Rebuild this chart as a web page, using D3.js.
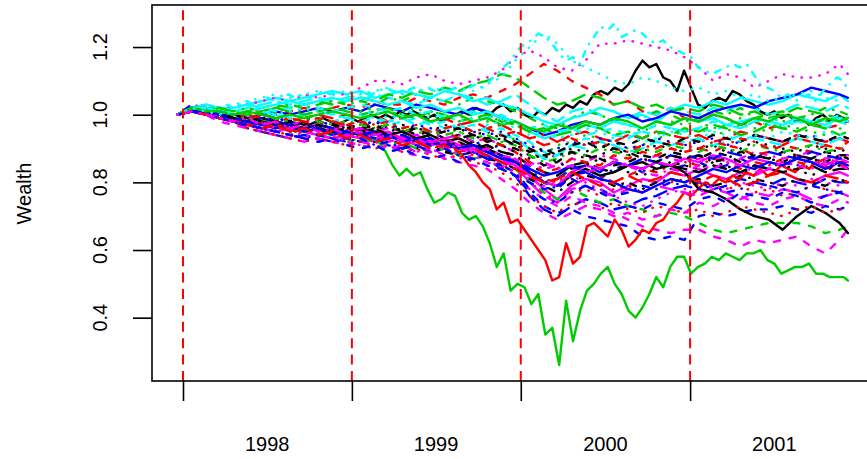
<!DOCTYPE html>
<html>
<head>
<meta charset="utf-8">
<script src="https://cdn.jsdelivr.net/npm/d3@7"></script>
<style>
body { margin: 0; background: #fff; }
text { font-family: "Liberation Sans", Arial, Helvetica, sans-serif; }
</style>
</head>
<body>
<script>
// axis breaks and labels
var yearLabels = [1998, 1999, 2000, 2001];
var yearBreaks = ["1998-01-01", "1999-01-01", "2000-01-01", "2001-01-01"];
var yTicks = [0.4, 0.6, 0.8, 1.0, 1.2];

// observation dates: monthly from Dec 1997 (last one early Dec 2001)
var dates = d3.range(48).map(function(i) { return d3.timeMonth.offset(new Date(1997, 11, 20), i); });
dates.push(new Date(2001, 11, 8));
// finer grid (every 15 days) for the few paths that stand out
var halfDates = d3.range(97).map(function(i) { return d3.timeDay.offset(new Date(1997, 11, 20), 15 * i); });
halfDates.push(new Date(2001, 11, 8));

// wealth paths, percent of starting value
var w00 = [100,101,102,101,100,100,99,99,98,99, 98,99,98,97,98,97,98,97,98,97, 98,99,98,97,98,99,98,99,100,99, 100,99,101,100,101,100,99,100,98,99, 100,101,100,102,101,100,102,103,101,102, 100,99,101,100,102,101,103,102,104,103, 106,107,106,108,107,109,113,116,114,115, 111,110,107,113,108,103,102,104,105,104, 107,106,104,103,101,100,101,99,100,98, 99,97,99,100,98,100,99,98];
var w01 = [100,102,102,101,100,100,101,100,101,102,101,102,103, 102,104,103,103,105,104,103,105,106,105,107,109, 112,115,113,110,108,106,103,104,101,100,102,99, 98,100,99,97,98,96,97,99,98,96,97,98];
var w02 = [100,102,101,100,99,98,99,98,97,96,97,96,95, 96,95,97,96,95,94,96,95,93,94,92,93, 90,88,91,92,94,93,92,90,91,93,94,95, 96,94,95,97,96,95,97,96,95,94,96,95];
var w03 = [100,103,102,101,100,99,98,97,98,97,96,95,96, 95,94,93,94,92,93,91,90,92,91,89,88, 84,80,78,82,83,81,84,85,83,86,84,85, 86,84,85,87,85,84,86,85,87,86,85,86];
var w04 = [100,102,103,102,101,102,103,104,103,104,105,104,105, 104,106,105,104,103,105,104,106,105,103,104,106, 103,100,98,101,102,100,98,99,101,100,102,101, 100,102,101,103,102,100,101,103,102,101,103,102];
var w05 = [100,101,100,99,98,97,96,95,96,95,94,93,94, 93,92,94,93,91,92,90,91,89,88,86,87, 82,78,75,79,81,80,77,79,81,80,83,82, 84,82,81,83,82,84,83,81,80,82,83,82];
var w06 = [100,102,101,100,99,98,97,98,97,96,97,96,97, 96,97,95,96,94,95,93,94,92,93,91,90, 88,85,86,89,88,87,85,86,88,87,89,88, 87,89,88,86,88,87,89,88,87,89,88,88];
var w07 = [100,101,100,99,98,97,96,95,94,95,94,93,94, 93,92,93,91,92,90,89,90,88,87,85,84, 80,77,74,77,78,76,78,79,77,79,80,81, 79,80,78,79,77,78,76,77,79,78,77,78];
var w08 = [100,102,102,101,101,102,101,102,103,102,103,104,103, 104,103,105,104,106,105,104,103,105,104,103,101, 99,97,96,99,101,100,98,100,99,101,100,98, 99,101,100,102,99,100,101,99,100,102,101,100];
var w09 = [100,102,100,99,98,96,95,94,93,94,93,92,93, 92,93,91,90,91,89,90,88,89,87,84,82, 76,72,70,73,75,74,72,73,75,76,78,79, 80,78,79,81,80,79,81,80,79,81,80,80];
var w10 = [100,102,103,102,102,103,104,105,104,105,106,107,106, 107,105,106,107,106,105,107,106,104,105,103,102, 100,98,97,99,100,102,101,99,100,98,101,103, 102,104,103,105,104,103,104,106,105,104,106,104];
var w11 = [100,101,100,98,97,96,95,94,93,92,93,92,91, 92,91,90,91,89,90,88,89,87,86,84,82, 78,75,73,76,74,73,71,69,67,66,65,66, 66,64,63,61,63,62,63,64,61,59,63,66];
var w12 = [100,102,101,100,100,99,98,99,98,99,98,97,98, 97,98,96,97,96,95,97,96,94,95,93,92, 89,87,88,90,89,91,90,88,89,91,90,89, 90,91,89,90,92,91,90,89,91,90,89,90];
var w13 = [100,101,101,100,99,98,97,96,97,96,95,96,95, 94,95,93,94,92,93,91,92,90,89,88,86, 83,81,80,83,84,82,80,82,84,83,85,86, 85,87,86,84,86,85,87,86,85,87,86,86];
var w14 = [100,102,102,101,100,101,102,103,102,103,104,103,104, 105,104,106,105,107,106,108,107,109,110,112,111, 108,105,103,104,106,105,103,104,102,103,101,102, 101,103,102,100,101,99,100,102,101,100,99,100];
var w15 = [100,102,101,101,100,99,100,101,100,101,102,101,102, 101,103,102,101,103,102,101,100,102,101,99,98, 96,94,95,97,98,97,99,100,98,99,101,100, 99,101,102,103,102,104,105,106,108,107,106,105];
var w16 = [100,102,101,100,101,100,99,100,99,100,99,98,99, 98,99,97,98,99,97,98,96,97,95,96,94, 92,89,88,91,93,92,94,93,95,94,96,95, 96,95,97,96,98,97,96,98,97,96,98,97];
var w17 = [100,102,103,102,102,103,104,105,104,106,105,106,106, 108,110,110,109,111,112,110,109,110,111,113,117, 119,117,114,113,116,121,121,122,121,120,119,117, 114,110,112,111,108,110,112,111,111,112,115,112];
var w18 = [100,101,100,99,98,97,96,97,96,95,94,95,94, 93,92,93,91,90,91,89,88,89,87,86,84, 81,79,77,80,82,81,79,80,78,80,81,80, 81,79,80,82,81,80,79,81,80,79,81,80];
var w19 = [100,102,101,101,100,99,100,99,100,99,100,99,100, 99,100,98,99,100,98,99,97,98,96,97,95, 93,91,92,94,95,93,92,94,93,95,94,93, 94,92,93,95,94,93,92,94,93,92,93,92];
var w20 = [100,101,102,102,101,102,101,100,99,99, 98,98,97,98,97,96,96,95,96,95, 96,95,94,95,94,95,94,94,93,92, 89,85,82,84,82,83,78,74,75,77, 76,71,69,70,67,62,55,59,48,50, 49,44,47,35,37,26,45,33,42,48, 50,53,55,50,47,42,40,43,47,52, 49,55,58,58,53,55,56,58,57,59, 58,57,59,59,60,57,56,53,54,55, 55,56,53,53,52,52,52,51];
var w21 = [100,101,100,99,98,97,96,97,96,95,96,95,94, 95,93,94,92,93,91,92,90,89,87,85,82, 77,73,71,72,70,69,68,67,64,63,64,63, 70,71,70,71,72,72,73,72,71,73,72,73];
var w22 = [100,102,103,102,103,104,105,106,105,106,107,106,107, 106,107,108,106,107,108,107,108,107,109,111,116, 120,124,121,116,114,112,110,109,111,110,108,107, 108,106,107,105,106,104,105,106,107,105,104,105];
var w23 = [100,102,101,100,99,98,99,98,97,98,97,96,97, 96,95,96,95,94,95,93,94,92,93,91,89, 86,84,85,87,86,88,87,85,86,88,87,86, 87,88,86,87,89,88,87,88,89,87,88,88];
var w24 = [100,101,100,99,98,97,98,97,96,95,96,95,94, 95,94,93,94,92,93,91,92,90,91,89,88, 85,83,82,85,86,84,83,85,84,86,85,84, 83,85,84,83,85,84,83,84,85,83,84,84];
var w25 = [100,101,102,102,101,101,100,100,99,98, 98,97,98,97,96,97,96,95,96,95, 96,95,95,96,95,96,95,94,95,94, 93,94,93,92,93,92,91,92,91,92, 90,88,85,83,80,78,72,74,68,69, 66,63,60,57,51,52,62,56,58,67, 68,66,64,69,66,61,63,66,65,68, 69,72,74,77,76,78,80,79,81,80, 82,81,83,82,84,82,83,85,84,83, 85,84,86,85,84,86,85,84];
var w26 = [100,101,100,99,98,97,96,95,94,95,94,93,92, 93,92,91,92,90,89,90,88,87,88,86,84, 80,77,75,78,76,74,75,73,72,70,71,70, 68,66,65,66,67,68,68,68,67,65,66,67];
var w27 = [100,102,101,100,100,99,100,99,98,99,98,97,98, 97,98,97,96,97,96,95,96,95,94,95,93, 91,89,90,92,91,93,92,90,91,93,92,91, 92,93,91,92,94,93,92,93,94,92,93,93];
var w28 = [100,101,102,102,101,102,102,103,102,103, 104,103,104,105,104,105,106,105,106,105, 106,107,106,107,106,105,106,107,106,107, 108,107,106,107,108,107,108,107,108,107, 108,107,108,109,108,110,112,114,116,119, 121,122,124,123,121,118,116,117,115,120, 123,126,125,127,123,124,125,124,122,121, 122,120,119,118,117,114,113,112,113,114, 115,114,115,112,109,108,107,105,106,104, 105,106,104,107,109,111,110,107];
var w29 = [100,101,100,99,98,97,96,95,96,95,94,93,94, 93,94,92,93,91,92,90,91,89,88,86,85, 80,76,74,78,79,77,76,78,77,79,78,77, 76,78,77,75,77,76,78,77,75,76,77,76];
var w30 = [100,101,101,100,99,98,99,98,97,96,97,96,95, 96,95,94,95,93,94,92,93,91,90,88,86, 83,80,79,82,84,82,83,85,86,84,85,83, 78,77,75,72,70,69,66,70,73,71,68,65];
var w31 = [100,102,101,100,99,100,99,98,99,98,97,98,97, 98,96,97,95,96,94,95,93,94,92,91,89, 86,83,84,87,86,85,88,87,89,88,90,89, 90,89,91,90,88,89,91,90,89,91,90,90];
var w32 = [100,102,102,101,100,101,100,101,102,101,102,101,102, 101,102,100,101,102,100,101,99,100,98,99,97, 95,93,94,96,97,96,98,97,95,97,98,97, 98,96,97,99,98,97,98,99,97,98,99,98];
var w33 = [100,101,100,99,98,97,96,95,94,93,94,93,92, 93,91,92,90,91,89,90,88,87,88,85,83, 78,75,74,77,79,78,76,77,79,78,80,79, 78,79,77,78,80,79,78,77,79,78,77,78];
var w34 = [100,102,101,100,101,100,101,100,99,100,101,100,99, 100,99,98,99,97,98,96,97,95,96,94,93, 90,87,88,91,90,92,91,89,90,92,91,92, 93,91,92,94,93,92,91,93,92,91,93,92];
var w35 = [100,101,100,100,99,98,97,98,97,96,97,96,95, 96,94,95,93,94,92,93,91,90,89,87,85, 82,80,79,83,85,84,86,85,84,86,85,87, 86,88,87,85,87,86,85,87,86,85,87,86];
var w36 = [100,102,101,100,100,99,98,99,98,97,98,97,96, 97,96,97,95,96,94,95,96,94,93,94,92, 90,88,89,91,92,90,92,91,93,92,91,93, 92,94,93,92,94,93,92,94,93,92,94,93];
var w37 = [100,101,100,99,98,96,95,94,93,92,93,92,91, 92,90,91,89,90,88,87,88,86,85,83,80, 76,73,71,74,73,72,74,72,71,73,72,71, 72,70,71,73,72,71,70,72,73,71,72,72];
var w38 = [100,102,101,101,100,99,98,99,98,99,98,97,98, 97,96,97,95,96,95,94,95,93,94,92,91, 88,86,87,89,88,90,89,88,90,89,91,90, 89,91,90,89,91,90,89,90,91,89,90,90];
var w39 = [100,101,101,100,99,98,99,98,97,96,97,96,95, 94,95,93,94,92,93,91,90,91,89,88,86, 83,80,81,84,85,83,86,85,87,86,88,87, 88,87,89,88,87,89,88,87,89,88,87,88];
var w40 = [100,102,102,101,102,103,102,103,104,103,104,105,104, 105,104,103,104,102,103,101,102,100,101,99,98, 95,93,94,96,97,96,98,97,96,98,97,99, 98,99,97,98,99,98,97,99,98,97,99,98];
var w41 = [100,101,100,99,98,97,96,95,94,93,92,93,92, 91,90,91,89,88,89,87,86,85,84,81,78, 74,71,69,71,73,72,70,71,69,70,72,71, 74,73,75,76,74,73,75,76,74,73,75,74];
var w42 = [100,102,101,101,100,99,98,97,98,97,96,97,96, 95,96,94,95,93,94,92,91,92,90,91,89, 87,88,86,84,85,87,86,83,82,84,86,85, 84,86,85,83,84,86,85,84,82,84,85,84];
var w43 = [100,101,102,100,99,100,99,98,99,98,99,98,97, 98,97,98,96,97,95,96,97,95,96,94,95, 93,94,92,93,91,92,90,89,91,90,92,91, 90,92,91,93,92,90,91,93,92,91,90,92];
var w44 = [100,102,101,102,101,100,101,102,101,100,101,102,101, 100,101,102,100,99,101,100,98,99,100,98,97, 95,96,94,95,97,96,94,95,93,95,94,96, 95,97,96,94,95,97,96,95,97,96,94,95];
var w45 = [100,101,101,100,99,98,97,96,97,95,96,94,95, 94,93,94,92,93,91,92,90,91,89,87,86, 84,82,83,85,83,81,80,78,77,79,81,80, 82,84,83,85,84,86,85,87,86,84,86,85];
var w46 = [100,102,102,101,100,101,102,101,102,103,102,101,102, 103,102,101,102,100,101,99,100,101,99,100,98, 96,97,95,96,94,95,96,94,95,97,96,95, 96,98,97,96,98,99,98,97,99,98,100,99];
var w47 = [100,101,100,99,98,97,98,96,95,94,93,94,92, 91,92,90,91,89,90,88,87,88,86,85,83, 81,79,80,82,80,78,76,74,73,75,77,78, 77,79,78,80,79,78,80,79,81,80,79,80];
var w48 = [100,102,101,100,99,98,99,98,97,96,97,95,96, 95,96,94,95,93,94,92,93,94,92,93,91, 89,90,88,89,87,88,90,89,87,86,88,87, 88,86,87,89,88,87,86,88,87,86,88,87];
var w49 = [100,101,100,99,98,97,96,97,95,96,94,95,93, 94,92,93,91,92,90,91,89,90,88,86,84, 82,80,81,83,81,79,80,82,80,81,83,82, 80,82,81,79,80,82,83,81,80,82,81,80];
var w50 = [100,102,101,101,100,101,100,99,100,99,100,101,100, 99,100,101,99,100,98,99,100,98,99,97,98, 96,95,97,96,98,97,99,98,96,98,97,99, 98,100,99,97,99,98,100,99,97,99,98,99];
var w51 = [100,101,100,99,98,97,96,95,94,93,92,93,91, 90,91,89,90,88,87,88,86,87,85,84,82, 80,78,79,81,79,77,75,73,72,74,73,72, 75,76,74,77,76,75,77,76,74,76,77,76];
var w52 = [100,102,101,100,101,102,101,100,101,102,101,100,101, 100,101,99,100,101,99,100,98,99,97,98,96, 94,95,93,94,96,95,93,94,92,93,95,94, 93,95,94,92,94,93,95,94,93,95,94,94];
var w53 = [100,101,100,99,98,99,97,98,96,97,95,96,94, 95,93,94,92,93,91,92,90,89,90,88,87, 85,86,84,85,83,84,86,85,83,82,84,83, 85,84,86,85,83,84,86,85,84,86,85,84];

var paths = [w00,w01,w02,w03,w04,w05,w06,w07,w08,w09,w10,w11,w12,w13,w14,w15,w16,w17,w18,w19,w20,
             w21,w22,w23,w24,w25,w26,w27,w28,w29,w30,w31,w32,w33,w34,w35,w36,w37,w38,w39,w40,
             w41,w42,w43,w44,w45,w46,w47,w48,w49,w50,w51,w52,w53];

// matplot style cycling: col = 1:6, lty = 1:5
var colors = ["#000000", "#FF0000", "#00CD00", "#0000FF", "#00FFFF", "#FF00FF"];
var dashes = [null, "6,10", "0.5,8.5", "0.5,8,6,8", "13,8"];

var width = 867, height = 459;
var plot = {left: 152, top: 5, bottom: 381, right: 960};

var x = d3.scaleTime()
    .domain([new Date(1998, 0, 1), new Date(2002, 0, 1)])
    .range([183, 859]);
var y = d3.scaleLinear()
    .domain([0.2128, 1.3243])
    .range([plot.bottom, plot.top]);

var svg = d3.select("body").append("svg")
    .attr("width", width)
    .attr("height", height);

svg.append("clipPath").attr("id", "clip")
  .append("rect")
    .attr("x", plot.left).attr("y", plot.top)
    .attr("width", plot.right - plot.left).attr("height", plot.bottom - plot.top);

// each path goes with the date grid that matches its length
var lineFor = function(vals) {
  var t = vals.length === halfDates.length ? halfDates : dates;
  return d3.line()
      .x(function(d, i) { return x(t[i]); })
      .y(function(d) { return y(d / 100); })(vals);
};

var g = svg.append("g").attr("clip-path", "url(#clip)");

g.selectAll(".wealth")
    .data(paths)
  .enter().append("path")
    .attr("class", "wealth")
    .attr("d", lineFor)
    .attr("fill", "none")
    .attr("stroke", function(d, i) { return colors[i % 6]; })
    .attr("stroke-dasharray", function(d, i) { return dashes[i % 5]; })
    .attr("stroke-width", 2.4)
    .attr("stroke-linecap", "round")
    .attr("stroke-linejoin", "round");

// year boundaries
g.selectAll(".vline")
    .data(yearBreaks)
  .enter().append("line")
    .attr("class", "vline")
    .attr("x1", function(d) { return x(new Date(d + "T00:00")); })
    .attr("x2", function(d) { return x(new Date(d + "T00:00")); })
    .attr("y1", plot.bottom)
    .attr("y2", 10)
    .attr("stroke", "#FF0000")
    .attr("stroke-width", 2)
    .attr("stroke-dasharray", "10,6.4");

// box
svg.append("rect")
    .attr("x", plot.left).attr("y", plot.top)
    .attr("width", plot.right - plot.left).attr("height", plot.bottom - plot.top)
    .attr("fill", "none")
    .attr("stroke", "#000")
    .attr("stroke-width", 1.6);

// y axis
var yAxis = svg.append("g")
    .attr("transform", "translate(" + plot.left + ",0)")
    .call(d3.axisLeft(y).tickValues(yTicks).tickSize(19).tickFormat(""));
yAxis.select(".domain").remove();
yAxis.selectAll(".tick line").attr("stroke-width", 1.6);

svg.selectAll(".ylab")
    .data(yTicks)
  .enter().append("text")
    .attr("class", "ylab")
    .attr("transform", function(d) { return "translate(107," + y(d) + ") rotate(-90)"; })
    .attr("text-anchor", "middle")
    .style("font-size", "20px")
    .text(d3.format(".1f"));

// x axis
var xAxis = svg.append("g")
    .attr("transform", "translate(0," + plot.bottom + ")")
    .call(d3.axisBottom(x)
        .tickValues(yearBreaks.map(function(d) { return new Date(d + "T00:00"); }))
        .tickSize(20).tickFormat(""));
xAxis.select(".domain").remove();
xAxis.selectAll(".tick line").attr("stroke-width", 1.6);

svg.selectAll(".xlab")
    .data(yearLabels)
  .enter().append("text")
    .attr("class", "xlab")
    .attr("x", function(d) { return x(new Date(d, 6, 2)); })
    .attr("y", 450.5)
    .attr("text-anchor", "middle")
    .style("font-size", "20px")
    .text(function(d) { return d; });

svg.append("text")
    .attr("transform", "translate(30.5,193.5) rotate(-90)")
    .attr("text-anchor", "middle")
    .style("font-size", "20px")
    .text("Wealth");
</script>
</body>
</html>
